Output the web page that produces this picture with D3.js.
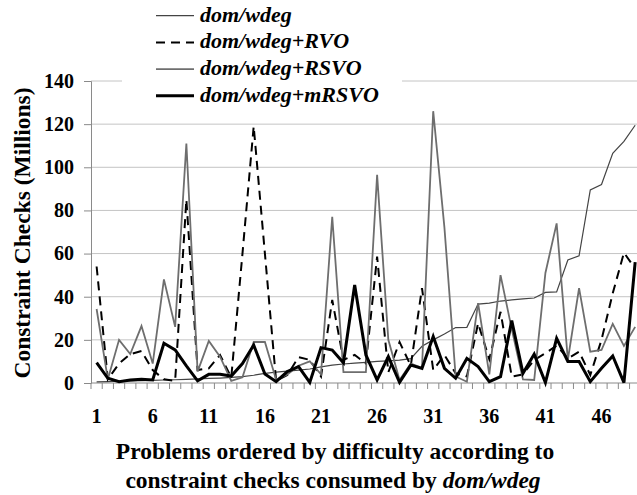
<!DOCTYPE html>
<html>
<head>
<meta charset="utf-8">
<script src="https://cdn.jsdelivr.net/npm/d3@7"></script>
<style>
  html, body { margin: 0; padding: 0; background: #fff; }
  svg { display: block; }
  svg text { font-family: "Liberation Serif", "Times New Roman", Tinos, "DejaVu Serif", serif !important; font-weight: bold; fill: #000; }
</style>
</head>
<body>
<svg id="chart" width="637" height="495"></svg>
<script>
// ---- data ----
const categories = d3.range(1, 50);
const xTickLabels = [1, 6, 11, 16, 21, 26, 31, 36, 41, 46];
const yTicks = [0, 20, 40, 60, 80, 100, 120, 140];

const domWdeg = [0.5,0.6,0.8,1,1.1,1.2,1.4,1.5,1.7,1.9,
  2.1,2.3,2.6,3,3.6,4.5,5,5.5,6,6.5,
  7.5,8.3,8.8,9.2,9.6,10,10.3,10.6,11.3,17,
  20,22.7,25.7,25.8,36.6,37,38,38.5,39,39.4,
  42,42.2,57,59,89.5,92,106.5,112,119.5];
const rvo = [54,1.7,9,13.4,14.8,6,1.7,1,85,6,
  6.8,13,2.6,60,119,60,1,3.7,12,10.7,
  3,38.5,10.7,13,9,58.6,5,19,8,44,
  6,13,4.5,3,27.7,11,33,3,4,10.7,
  13.8,17.3,11.4,14.5,3.7,20,41.6,60.4,53];
const rsvo = [34.3,1.7,20,13.4,26.4,9,48,26,111,5.3,
  19.5,12.2,1,2.6,19,19,1.5,4,8,10,
  4,77,5,5,5,96.5,20,1.4,9,7,
  126,72,3,0.6,37,4,50,25,1.7,1.4,
  51,74,10.7,44,14.5,15.3,27.4,17.2,26];
const mrsvo = [9.4,2.2,0.6,1.4,1.7,1.4,18.4,15.3,7.9,1,
  4,4,3.2,9,17.6,4.2,0.6,5.3,7.6,0.3,
  16.4,15.3,9.4,45.4,13,1.4,12.2,0.3,8.3,6.8,
  21.5,6.8,2.2,11.4,7.6,0.6,2.9,29,4.5,13.4,
  0.2,20.7,10,10,0.6,6.8,12.5,0.2,56];

const seriesNames = ["dom/wdeg", "dom/wdeg+RVO", "dom/wdeg+RSVO", "dom/wdeg+mRSVO"];
const seriesValues = [domWdeg, rvo, rsvo, mrsvo];
const seriesStyle = [
  { stroke: "#444", width: 1.2, dash: null },
  { stroke: "#000", width: 2, dash: "9,6" },
  { stroke: "#6e6e6e", width: 1.8, dash: null },
  { stroke: "#000", width: 3, dash: null }
];

// ---- layout ----
const svg = d3.select("#chart");
const plotLeft = 91, plotTop = 81, plotBottom = 383, step = 11.22;
const x = d3.scaleBand().domain(categories).range([plotLeft, plotLeft + step * categories.length]).padding(0);
const cx = c => x(c) + x.bandwidth() / 2;
const y = d3.scaleLinear().domain([0, 140]).range([plotBottom, plotTop]);

// gridlines
svg.append("g").selectAll("line").data(yTicks.filter(t => t > 0)).join("line")
  .attr("x1", plotLeft).attr("x2", 637)
  .attr("y1", d => y(d)).attr("y2", d => y(d))
  .attr("stroke", "#c4c4c4").attr("stroke-width", 1);

// y axis
const yAxis = svg.append("g").attr("transform", `translate(${plotLeft},0)`)
  .call(d3.axisLeft(y).tickValues(yTicks).tickSize(7).tickPadding(10));
yAxis.attr("font-family", null);
yAxis.select(".domain").attr("stroke", "#8a8a8a");
yAxis.selectAll(".tick line").attr("stroke", "#8a8a8a");
yAxis.selectAll(".tick text").attr("font-size", 20).attr("fill", "#000");

// x axis line and category ticks
svg.append("line").attr("x1", plotLeft).attr("x2", 637).attr("y1", plotBottom).attr("y2", plotBottom)
  .attr("stroke", "#8a8a8a");
svg.append("g").selectAll("line").data(categories).join("line")
  .attr("x1", d => x(d)).attr("x2", d => x(d))
  .attr("y1", plotBottom).attr("y2", plotBottom + 6)
  .attr("stroke", "#8a8a8a");
svg.append("g").selectAll("text").data(xTickLabels).join("text")
  .attr("x", d => cx(d)).attr("y", 423)
  .attr("text-anchor", "middle").attr("font-size", 20)
  .text(d => d);

// series lines
const line = d3.line().x((d, i) => cx(categories[i])).y(d => y(d));
seriesValues.forEach((vals, k) => {
  const s = seriesStyle[k];
  svg.append("path").datum(vals)
    .attr("d", line)
    .attr("fill", "none")
    .attr("stroke", s.stroke)
    .attr("stroke-width", s.width)
    .attr("stroke-dasharray", s.dash)
    .attr("stroke-linejoin", "miter");
});

// legend
svg.append("rect").attr("x", 122).attr("y", 0).attr("width", 280).attr("height", 108).attr("fill", "#fff");
seriesNames.forEach((name, k) => {
  const s = seriesStyle[k];
  const by = 21.7 + k * 26.7;
  svg.append("line").attr("x1", 156).attr("x2", 194).attr("y1", by - 6).attr("y2", by - 6)
    .attr("stroke", s.stroke).attr("stroke-width", s.width).attr("stroke-dasharray", s.dash);
  svg.append("text").attr("x", 200).attr("y", by)
    .attr("font-size", 22).attr("font-style", "italic").text(name);
});

// y axis title
svg.append("text")
  .attr("transform", "translate(30,233) rotate(-90)")
  .attr("text-anchor", "middle").attr("font-size", 23.5)
  .text("Constraint Checks (Millions)");

// x axis title
svg.append("text").attr("x", 335).attr("y", 459).attr("text-anchor", "middle").attr("font-size", 23.5)
  .text("Problems ordered by difficulty according to");
const t2 = svg.append("text").attr("x", 333).attr("y", 488).attr("text-anchor", "middle").attr("font-size", 23.5);
t2.append("tspan").text("constraint checks consumed by ");
t2.append("tspan").attr("font-style", "italic").text("dom/wdeg");
</script>
</body>
</html>
